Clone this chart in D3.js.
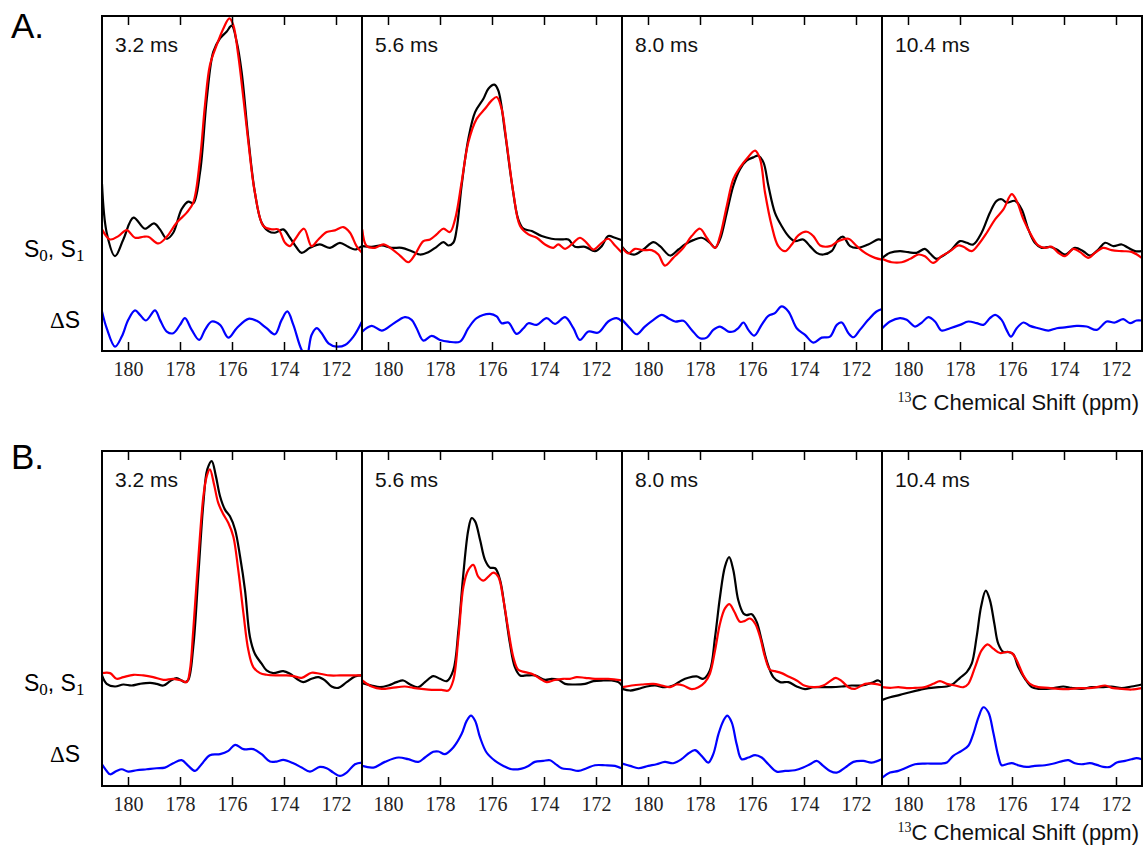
<!DOCTYPE html>
<html>
<head>
<meta charset="utf-8">
<script src="https://cdn.jsdelivr.net/npm/d3@7"></script>
<style>
  body { margin: 0; background: #fff; }
  svg { display: block; }
</style>
</head>
<body>
<svg width="1143" height="850"></svg>
<script>
// mixing times and ppm ticks
const delays = ["3.2 ms", "5.6 ms", "8.0 ms", "10.4 ms"];
const ppmTicks = [180, 178, 176, 174, 172];

// ---- row A : [ppm, intensity] ----
const aS0_1 = [[181,49.8],[180.82,35.3],[180.5,28.3],[180.18,33.3],[179.79,39.8],[179.35,36.5],[179.0,38.1],[178.77,36.3],[178.51,33.5],[178.26,35.3],[177.94,42.3],[177.68,44.6],[177.49,44.1],[177.23,53.3],[176.97,75.3],[176.72,89.3],[176.46,93.3],[176.21,95.3],[176.01,97.1],[175.82,92.3],[175.63,83.3],[175.37,63.3],[175.12,47.3],[174.86,38.3],[174.6,35.8],[174.35,35.3],[174.03,36.3],[173.77,33.8],[173.51,30.8],[173.32,29.3],[173.0,30.8],[172.62,31.8],[172.23,30.8],[171.85,32.3],[171.53,31.1],[171.27,30.3],[171.0,31.3]];
const aS1_1 = [[181,36.3],[180.69,33.3],[180.37,34.3],[180.05,36.1],[179.73,33.8],[179.41,34.1],[179.22,34.1],[178.83,32.1],[178.51,34.1],[178.13,38.3],[177.74,41.3],[177.49,44.3],[177.23,57.3],[177.04,73.3],[176.85,85.3],[176.59,91.3],[176.33,96.3],[176.1,99.3],[175.95,97.3],[175.76,88.3],[175.56,75.3],[175.37,62.3],[175.12,47.3],[174.79,37.3],[174.47,36.3],[174.22,36.3],[173.96,32.3],[173.77,31.3],[173.58,33.3],[173.23,36.5],[172.94,31.3],[172.68,33.3],[172.36,35.5],[172.04,36.0],[171.72,37.0],[171.46,35.3],[171.21,31.3],[171.0,29.3]];
const aDS_1 = [[181,11.8],[180.82,6.8],[180.5,1.3],[180.24,4.3],[179.99,9.3],[179.73,12.1],[179.54,10.8],[179.31,9.1],[178.96,12.1],[178.77,9.3],[178.51,5.8],[178.26,5.3],[178.0,7.8],[177.81,9.8],[177.55,6.3],[177.26,3.3],[177.04,6.3],[176.78,8.8],[176.46,7.8],[176.14,4.0],[175.82,6.8],[175.37,9.6],[175.05,9.0],[174.67,6.8],[174.35,5.0],[174.09,9.3],[173.87,11.8],[173.64,7.8],[173.32,0.3],[173.13,-1.5],[172.94,4.8],[172.74,6.8],[172.55,5.3],[172.29,2.3],[171.97,1.3],[171.65,1.8],[171.33,4.3],[171.0,8.8]];

const aS0_2 = [[180.99,31.3],[180.63,31.1],[180.24,31.5],[179.86,30.8],[179.47,30.8],[179.09,29.8],[178.77,28.8],[178.45,29.5],[178.13,31.1],[177.87,32.5],[177.68,31.5],[177.49,32.3],[177.36,36.3],[177.17,49.3],[176.91,63.3],[176.65,71.3],[176.33,75.3],[176.14,78.3],[175.91,79.5],[175.76,77.8],[175.5,65.3],[175.24,50.3],[174.99,39.3],[174.79,36.5],[174.47,35.8],[174.09,34.3],[173.71,33.5],[173.32,33.3],[173.06,33.3],[172.81,31.1],[172.42,31.1],[172.04,29.8],[171.78,31.3],[171.53,34.3],[171.27,33.8],[171.0,33.1]];
const aS1_2 = [[180.99,36.3],[180.82,31.3],[180.5,30.8],[180.18,31.8],[179.86,30.5],[179.54,28.5],[179.22,26.5],[178.96,28.8],[178.64,32.8],[178.38,33.3],[178.13,34.8],[177.87,36.5],[177.62,35.5],[177.42,39.3],[177.17,50.3],[176.91,62.3],[176.59,69.3],[176.27,72.3],[176.01,74.8],[175.82,75.8],[175.63,72.3],[175.44,62.3],[175.18,47.3],[174.92,37.3],[174.6,34.8],[174.28,33.8],[173.96,31.8],[173.64,30.8],[173.45,31.8],[173.19,30.5],[172.87,32.3],[172.62,33.8],[172.36,32.3],[172.1,30.3],[171.78,32.3],[171.53,33.5],[171.27,31.5],[171.0,29.3]];
const aDS_2 = [[180.99,5.8],[180.63,7.5],[180.24,6.1],[179.86,7.8],[179.35,10.1],[179.09,9.3],[178.9,6.8],[178.64,3.1],[178.32,4.5],[178.0,3.3],[177.68,2.8],[177.23,2.8],[176.91,6.8],[176.59,9.8],[176.08,11.1],[175.82,10.3],[175.63,8.3],[175.37,8.5],[175.05,5.1],[174.79,6.8],[174.6,8.3],[174.28,7.8],[173.9,9.8],[173.58,8.1],[173.19,10.1],[172.87,6.8],[172.62,3.3],[172.29,5.8],[171.91,5.5],[171.53,8.8],[171.21,9.8],[171.0,8.8]];

const aS0_3 = [[180.99,31.1],[180.76,29.3],[180.5,28.8],[180.18,30.3],[179.79,32.5],[179.54,31.3],[179.15,28.5],[178.83,30.3],[178.58,31.8],[178.26,33.1],[177.94,33.8],[177.62,32.3],[177.42,30.8],[177.23,33.3],[176.97,41.3],[176.72,49.3],[176.46,54.3],[176.21,56.8],[175.95,57.8],[175.76,58.3],[175.56,56.3],[175.37,49.3],[175.12,41.3],[174.86,37.3],[174.6,34.3],[174.35,32.8],[174.03,33.3],[173.77,31.3],[173.51,29.3],[173.26,28.8],[172.94,29.8],[172.68,33.3],[172.49,34.1],[172.23,31.3],[171.91,30.8],[171.53,31.8],[171.14,33.3],[171.0,33.1]];
const aS1_3 = [[180.99,30.8],[180.76,29.1],[180.5,30.5],[180.18,30.1],[179.86,30.1],[179.6,28.8],[179.35,25.5],[179.03,27.8],[178.64,30.8],[178.32,34.3],[178.0,36.5],[177.74,33.8],[177.42,30.8],[177.23,34.3],[176.97,43.3],[176.72,51.3],[176.46,54.8],[176.21,57.3],[175.88,59.8],[175.69,57.3],[175.5,47.3],[175.24,37.3],[174.99,31.3],[174.73,29.8],[174.47,31.8],[174.22,34.5],[173.9,35.6],[173.64,34.3],[173.38,31.5],[173.0,31.3],[172.68,32.8],[172.29,33.5],[171.97,31.3],[171.65,29.3],[171.27,27.8],[171.0,27.3]];
const aDS_3 = [[180.99,9.3],[180.69,6.8],[180.44,5.0],[180.12,7.3],[179.79,9.3],[179.47,10.8],[179.22,9.8],[178.96,8.8],[178.64,9.0],[178.32,6.3],[178.0,3.8],[177.74,4.0],[177.49,6.3],[177.23,7.3],[176.91,5.8],[176.72,5.8],[176.53,6.8],[176.33,8.5],[176.14,6.3],[175.91,4.6],[175.63,7.8],[175.37,10.5],[175.12,11.3],[174.86,13.3],[174.6,11.8],[174.28,6.8],[173.96,4.8],[173.64,2.5],[173.32,4.0],[173.0,4.3],[172.74,7.8],[172.55,8.5],[172.29,5.3],[172.1,4.1],[171.85,6.3],[171.53,9.3],[171.21,11.8],[171.0,12.5]];

const aS0_4 = [[180.99,27.8],[180.69,29.3],[180.31,29.8],[179.99,29.5],[179.67,29.3],[179.35,30.5],[179.15,29.1],[178.9,27.5],[178.64,28.5],[178.32,30.3],[178.0,32.8],[177.74,32.3],[177.49,31.8],[177.17,35.3],[176.85,41.3],[176.59,44.8],[176.4,45.3],[176.21,44.3],[175.88,44.8],[175.63,42.3],[175.37,36.3],[175.12,32.3],[174.86,30.8],[174.54,31.1],[174.28,30.3],[173.96,28.8],[173.58,30.8],[173.26,29.8],[173.0,28.5],[172.68,30.3],[172.42,32.3],[172.1,31.3],[171.78,31.8],[171.53,30.8],[171.27,29.8],[171.01,29.8]];
const aS1_4 = [[180.99,27.5],[180.63,26.5],[180.24,26.5],[179.92,27.5],[179.6,28.8],[179.35,28.3],[179.03,26.3],[178.71,28.3],[178.38,29.8],[178.06,31.5],[177.87,31.1],[177.55,29.8],[177.29,31.8],[176.97,35.3],[176.65,39.3],[176.33,42.3],[176.01,46.8],[175.82,44.8],[175.56,39.3],[175.24,34.3],[174.99,31.5],[174.73,30.8],[174.47,31.1],[174.22,29.3],[173.96,28.3],[173.64,30.5],[173.38,29.5],[173.06,27.8],[172.81,29.3],[172.49,30.8],[172.17,30.1],[171.78,29.8],[171.4,29.6],[171.01,27.8]];
const aDS_4 = [[180.99,6.8],[180.69,8.8],[180.31,9.8],[180.05,9.3],[179.73,7.3],[179.47,8.5],[179.22,10.1],[178.96,8.8],[178.71,6.1],[178.38,6.8],[178.0,7.8],[177.68,8.8],[177.36,8.3],[177.1,7.8],[176.85,9.8],[176.65,10.8],[176.4,9.3],[176.21,6.3],[176.04,4.3],[175.82,6.8],[175.56,8.5],[175.31,7.5],[174.99,6.8],[174.6,6.1],[174.28,6.8],[173.9,7.1],[173.51,7.5],[173.13,7.3],[172.74,6.3],[172.36,8.8],[172.04,8.5],[171.72,9.5],[171.46,8.3],[171.21,9.1],[171.01,9.1]];

// ---- row B ----
const bS0_1 = [[181,33.0],[180.82,30.5],[180.5,29.7],[180.18,30.3],[179.86,30.0],[179.54,30.5],[179.15,30.8],[178.9,30.5],[178.64,30.0],[178.38,31.3],[178.13,32.2],[177.94,31.5],[177.81,31.0],[177.68,31.7],[177.49,41.5],[177.29,63.5],[177.1,84.5],[176.95,94.5],[176.78,97.0],[176.62,92.5],[176.46,86.5],[176.27,82.5],[176.08,80.5],[175.88,76.5],[175.69,68.5],[175.5,58.5],[175.31,44.5],[175.12,39.5],[174.86,36.5],[174.67,34.5],[174.41,33.7],[174.03,34.3],[173.77,33.5],[173.51,32.0],[173.26,31.0],[172.94,32.0],[172.68,32.5],[172.42,31.5],[172.17,29.7],[171.91,29.3],[171.59,31.0],[171.27,32.7],[171.0,33.0]];
const bS1_1 = [[181,33.7],[180.69,33.7],[180.44,32.0],[180.18,32.5],[179.79,33.2],[179.41,33.0],[179.03,32.5],[178.64,31.7],[178.26,32.0],[177.94,31.5],[177.74,31.0],[177.62,34.5],[177.49,46.5],[177.29,68.5],[177.1,86.5],[176.97,92.5],[176.85,94.5],[176.69,90.0],[176.53,84.5],[176.36,81.5],[176.14,78.5],[175.95,74.5],[175.76,64.5],[175.56,51.5],[175.37,40.5],[175.18,35.5],[174.92,33.7],[174.67,33.2],[174.28,33.0],[173.9,33.0],[173.64,32.8],[173.32,32.3],[172.94,33.8],[172.62,33.5],[172.23,33.0],[171.85,33.0],[171.46,33.0],[171.0,33.0]];
const bDS_1 = [[181,6.5],[180.82,4.5],[180.69,3.5],[180.44,4.5],[180.24,5.0],[179.99,4.3],[179.67,4.7],[179.28,5.0],[178.9,5.3],[178.58,5.5],[178.26,6.8],[177.94,7.7],[177.68,6.0],[177.42,4.5],[177.17,6.5],[176.85,9.2],[176.46,9.5],[176.14,10.5],[175.88,12.3],[175.56,11.0],[175.18,11.0],[174.86,9.5],[174.54,7.3],[174.28,7.3],[174.03,7.8],[173.64,6.8],[173.32,5.5],[173.0,4.3],[172.62,5.7],[172.36,5.3],[172.1,4.0],[171.85,3.0],[171.59,4.0],[171.27,6.5],[171.0,7.0]];

const bS0_2 = [[180.99,30.7],[180.63,30.0],[180.31,29.5],[179.99,30.0],[179.67,31.0],[179.41,31.5],[179.15,30.3],[178.83,29.5],[178.58,31.0],[178.26,32.8],[178.0,32.0],[177.74,31.3],[177.49,34.5],[177.29,46.5],[177.1,63.5],[176.91,76.5],[176.78,80.0],[176.65,79.0],[176.46,73.5],[176.27,67.5],[176.08,65.2],[175.88,65.0],[175.69,61.5],[175.5,52.5],[175.31,42.5],[175.12,35.5],[174.92,33.0],[174.67,33.0],[174.35,33.0],[173.96,31.7],[173.71,32.0],[173.45,31.7],[173.19,30.5],[172.81,30.3],[172.42,30.5],[172.1,31.3],[171.72,31.5],[171.4,31.5],[171.14,31.0],[171.0,30.0]];
const bS1_2 = [[180.99,31.5],[180.63,29.7],[180.24,29.0],[179.86,29.3],[179.35,29.7],[179.03,29.3],[178.71,29.0],[178.32,28.7],[177.94,28.7],[177.68,28.5],[177.49,31.5],[177.29,44.5],[177.1,59.5],[176.91,64.5],[176.72,66.0],[176.53,62.5],[176.33,61.3],[176.14,62.5],[175.95,63.7],[175.76,62.5],[175.56,55.5],[175.37,46.5],[175.18,38.5],[174.99,34.7],[174.73,34.0],[174.41,33.3],[174.15,32.0],[173.9,31.0],[173.58,31.7],[173.26,32.0],[173.0,32.0],[172.74,32.5],[172.42,32.3],[172.04,32.0],[171.53,32.0],[171.0,31.5]];
const bDS_2 = [[180.99,6.0],[180.56,5.5],[180.12,7.2],[179.6,8.5],[179.22,8.0],[178.83,7.2],[178.58,8.5],[178.26,10.2],[178.06,10.3],[177.81,9.5],[177.49,11.5],[177.17,15.5],[176.97,19.5],[176.81,21.0],[176.65,19.5],[176.46,14.5],[176.21,10.0],[175.88,7.5],[175.56,6.0],[175.24,5.0],[174.86,5.2],[174.6,6.0],[174.35,7.2],[174.03,7.5],[173.77,7.7],[173.58,6.7],[173.32,5.3],[173.0,5.0],[172.68,4.5],[172.36,5.3],[172.04,6.2],[171.65,6.2],[171.27,6.0],[171.0,5.2]];

const bS0_3 = [[180.99,29.0],[180.69,28.5],[180.37,29.0],[180.05,29.7],[179.73,30.0],[179.35,29.5],[179.03,30.0],[178.71,31.5],[178.45,32.3],[178.13,32.7],[177.87,32.0],[177.62,34.5],[177.42,44.5],[177.23,56.5],[177.04,65.5],[176.88,68.3],[176.72,64.5],[176.53,55.5],[176.33,51.5],[176.21,51.0],[176.01,51.3],[175.82,49.0],[175.63,43.5],[175.44,37.5],[175.18,32.5],[174.92,31.0],[174.6,31.0],[174.28,29.7],[173.96,28.9],[173.64,29.5],[173.32,29.5],[172.94,29.5],[172.55,29.7],[172.17,30.0],[171.78,30.0],[171.4,30.8],[171.14,31.5],[171.0,30.7]];
const bS1_3 = [[180.99,29.5],[180.63,30.0],[180.24,30.3],[179.79,30.5],[179.47,30.0],[179.15,29.5],[178.9,30.3],[178.64,30.0],[178.32,28.9],[178.06,29.5],[177.81,31.0],[177.62,33.5],[177.42,40.5],[177.23,48.5],[177.04,53.0],[176.87,54.3],[176.68,52.0],[176.46,49.0],[176.27,49.3],[176.08,50.0],[175.88,48.5],[175.69,44.5],[175.5,38.5],[175.31,34.7],[175.12,34.3],[174.86,33.7],[174.6,32.7],[174.28,31.5],[173.96,29.9],[173.58,29.5],[173.26,30.0],[173.0,31.3],[172.78,32.3],[172.55,31.3],[172.29,29.5],[172.04,29.0],[171.65,30.5],[171.27,30.5],[171.0,30.0]];
const bDS_3 = [[180.99,6.7],[180.69,6.0],[180.37,5.3],[179.99,6.0],[179.67,6.5],[179.35,7.2],[179.03,6.8],[178.71,8.0],[178.45,9.7],[178.19,10.7],[177.94,9.0],[177.68,7.0],[177.49,9.5],[177.29,15.5],[177.1,19.5],[176.95,21.0],[176.78,19.0],[176.59,12.5],[176.4,8.0],[176.14,8.5],[175.88,9.2],[175.63,8.5],[175.37,6.5],[175.05,4.3],[174.73,4.5],[174.35,4.7],[174.03,5.5],[173.77,6.5],[173.51,7.5],[173.26,6.0],[173.0,4.5],[172.74,4.0],[172.42,5.5],[172.1,7.2],[171.72,7.5],[171.4,7.0],[171.01,8.0]];

const bS0_4 = [[180.99,25.7],[180.69,26.5],[180.31,27.2],[179.92,28.0],[179.54,28.7],[179.22,29.2],[178.83,29.5],[178.51,29.7],[178.26,30.5],[178.0,32.3],[177.74,34.0],[177.55,36.5],[177.36,44.5],[177.19,53.5],[177.01,58.3],[176.85,55.5],[176.68,48.5],[176.53,42.5],[176.33,40.0],[176.14,40.0],[175.95,39.3],[175.76,35.5],[175.5,32.0],[175.24,29.5],[174.99,29.0],[174.67,29.0],[174.35,29.3],[174.03,29.7],[173.71,29.3],[173.32,29.0],[172.94,29.5],[172.55,29.5],[172.17,29.7],[171.78,29.2],[171.4,29.7],[171.01,30.3]];
const bS1_4 = [[180.99,29.5],[180.69,29.3],[180.37,29.5],[180.05,29.2],[179.73,29.3],[179.35,29.5],[179.03,30.5],[178.77,31.3],[178.51,30.5],[178.19,30.0],[177.87,29.5],[177.68,30.5],[177.42,35.5],[177.17,40.5],[176.94,42.3],[176.72,41.0],[176.46,39.7],[176.21,40.0],[176.01,39.7],[175.82,37.5],[175.56,33.0],[175.31,30.5],[174.99,29.5],[174.6,29.3],[174.22,29.0],[173.83,28.9],[173.45,29.2],[173.06,29.2],[172.74,29.5],[172.42,30.0],[172.1,29.2],[171.78,29.0],[171.4,28.8],[171.01,29.2]];
const bDS_4 = [[180.99,2.5],[180.69,4.0],[180.37,4.5],[180.05,5.5],[179.73,6.5],[179.35,6.7],[179.03,6.7],[178.71,6.7],[178.51,7.0],[178.26,9.0],[177.94,10.5],[177.68,12.0],[177.49,15.5],[177.29,20.5],[177.1,23.5],[176.91,22.0],[176.72,16.0],[176.53,9.0],[176.4,6.2],[176.21,6.5],[176.01,6.8],[175.76,6.2],[175.44,5.7],[175.12,6.0],[174.73,6.2],[174.35,6.8],[174.03,7.5],[173.83,7.7],[173.58,6.8],[173.32,6.5],[173.0,6.8],[172.74,6.3],[172.49,5.7],[172.23,5.7],[171.97,7.0],[171.65,7.5],[171.4,8.0],[171.21,8.3],[171.01,8.0]];

// layout
const panelW = 260, panelH = 335;
const panelX = [102, 362, 622, 882];
const colors = ["#000000", "#ff0000", "#0000ff"];

const rows = [
  {tag: "A.", tagY: 38, top: 16, s01Y: 257, dsY: 328, titleY: 410,
   curves: [[aS0_1, aS1_1, aDS_1], [aS0_2, aS1_2, aDS_2], [aS0_3, aS1_3, aDS_3], [aS0_4, aS1_4, aDS_4]]},
  {tag: "B.", tagY: 469, top: 451, s01Y: 691, dsY: 762, titleY: 840,
   curves: [[bS0_1, bS1_1, bDS_1], [bS0_2, bS1_2, bDS_2], [bS0_3, bS1_3, bDS_3], [bS0_4, bS1_4, bDS_4]]}
];

const svg = d3.select("svg");
const sans = "'Liberation Sans', Arial, sans-serif";
const serif = "'Liberation Serif', 'DejaVu Serif', serif";

const x = d3.scaleLinear().domain([181, 171]).range([0, panelW]);
const y = d3.scaleLinear().domain([0, 100]).range([panelH, 0]);

const line = d3.line()
    .x(d => x(d[0]))
    .y(d => y(d[1]))
    .curve(d3.curveCatmullRom.alpha(0.5));

rows.forEach((row, ri) => {
    // row tag
    svg.append("text")
        .attr("x", 11).attr("y", row.tagY)
        .style("font-family", sans).style("font-size", "35px")
        .text(row.tag);

    // S0, S1 label
    const lab = svg.append("text")
        .attr("x", 24).attr("y", row.s01Y)
        .style("font-family", sans).style("font-size", "23px");
    lab.append("tspan").text("S");
    lab.append("tspan").attr("dy", 4).style("font-family", serif).style("font-size", "17px").text("0");
    lab.append("tspan").attr("dy", -4).text(", S");
    lab.append("tspan").attr("dy", 4).style("font-family", serif).style("font-size", "17px").text("1");

    const dl = svg.append("text")
        .attr("x", 50).attr("y", row.dsY)
        .style("font-family", sans).style("font-size", "23px");
    dl.append("tspan").style("font-family", serif).text("Δ");
    dl.append("tspan").text("S");

    row.curves.forEach((curves, pi) => {
        const g = svg.append("g")
            .attr("transform", `translate(${panelX[pi]},${row.top})`);

        const clipId = `clip-${ri}-${pi}`;
        g.append("clipPath").attr("id", clipId)
            .append("rect").attr("width", panelW).attr("height", panelH);

        const plot = g.append("g").attr("clip-path", `url(#${clipId})`);
        curves.forEach((data, ci) => {
            plot.append("path")
                .datum(data)
                .attr("fill", "none")
                .attr("stroke", colors[ci])
                .attr("stroke-width", 2.2)
                .attr("stroke-linejoin", "round")
                .attr("d", line);
        });

        // bottom axis with inward ticks
        const bottom = g.append("g")
            .attr("transform", `translate(0,${panelH})`)
            .call(d3.axisBottom(x).tickValues(ppmTicks).tickSizeInner(-9).tickSizeOuter(0).tickPadding(11));
        bottom.select(".domain").remove();
        bottom.selectAll("line").attr("stroke", "#000").attr("stroke-width", 1.5);
        bottom.selectAll("text")
            .style("font-family", serif).style("font-size", "20px").attr("fill", "#222");

        const top = g.append("g")
            .call(d3.axisTop(x).tickValues(ppmTicks).tickSizeInner(-9).tickSizeOuter(0).tickFormat(""));
        top.select(".domain").remove();
        top.selectAll("line").attr("stroke", "#000").attr("stroke-width", 1.5);

        // frame
        g.append("rect")
            .attr("width", panelW).attr("height", panelH)
            .attr("fill", "none").attr("stroke", "#000").attr("stroke-width", 2);

        g.append("text")
            .attr("x", 13).attr("y", 36)
            .style("font-family", sans).style("font-size", "21px").attr("fill", "#111")
            .text(delays[pi]);
    });

    // axis title
    const t = svg.append("text")
        .attr("x", 1139).attr("y", row.titleY)
        .attr("text-anchor", "end")
        .style("font-family", sans).style("font-size", "22px").attr("fill", "#111");
    t.append("tspan").attr("dy", -8).style("font-family", serif).style("font-size", "14px").text("13");
    t.append("tspan").attr("dy", 8).text("C Chemical Shift (ppm)");
});
</script>
</body>
</html>
